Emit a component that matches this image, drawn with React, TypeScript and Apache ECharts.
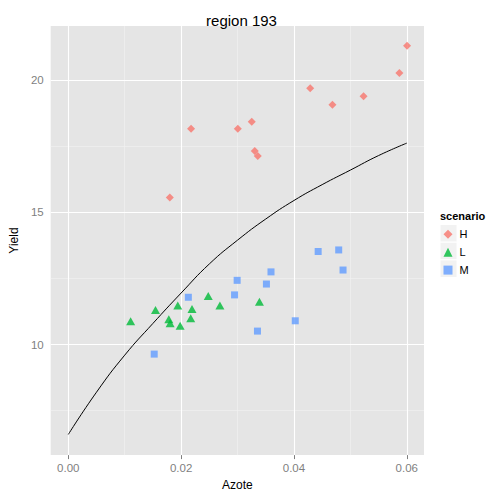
import React, { useEffect, useRef } from 'react';
import * as echarts from 'echarts';

// Scenario H (red diamonds)
const hAzote = [0.0180, 0.02176, 0.03005, 0.03252, 0.03305, 0.03358, 0.04288, 0.04682, 0.05234, 0.05869, 0.06005];
const hYield = [15.56, 18.16, 18.16, 18.43, 17.32, 17.13, 19.70, 19.07, 19.39, 20.27, 21.30];

// Scenario L (green triangles)
const lAzote = [0.01105, 0.01546, 0.01782, 0.01805, 0.01941, 0.01982, 0.02170, 0.02193, 0.02481, 0.02687, 0.03388];
const lYield = [10.88, 11.31, 10.96, 10.81, 11.48, 10.71, 11.00, 11.35, 11.84, 11.48, 11.62];

// Scenario M (blue squares)
const mAzote = [0.01523, 0.02128, 0.02947, 0.02993, 0.03353, 0.03512, 0.03593, 0.04023, 0.04429, 0.04793, 0.04870];
const mYield = [9.64, 11.79, 11.88, 12.43, 10.51, 12.29, 12.75, 10.90, 13.52, 13.58, 12.82];

// Fitted response curve
const curveAzote = [0, 0.005, 0.01, 0.015, 0.02, 0.025, 0.03, 0.035, 0.04, 0.045, 0.05, 0.055, 0.06];
const curveYield = [6.6, 8.2, 9.6, 10.8, 11.95, 13.05, 13.95, 14.75, 15.45, 16.05, 16.6, 17.15, 17.62];

const scenarios = ['H', 'L', 'M'];
const xMajor = [0, 0.02, 0.04, 0.06];
const xMinor = [0.01, 0.03, 0.05];
const yMajor = [10, 15, 20];
const yMinor = [7.5, 12.5, 17.5];

const zip = (a: number[], b: number[]) => a.map((v, i) => [v, b[i]]);

export default function App() {
  const ref = useRef<HTMLDivElement>(null);
  useEffect(() => {
    const chart = echarts.init(ref.current!, null, { renderer: 'svg' });
    const axisText = { color: '#7F7F7F', fontSize: 11.5, fontFamily: 'Liberation Sans, Arial, sans-serif' };
    const minorStyle = { color: '#F2F2F2', width: 0.6, type: 'solid' };
    const majorStyle = { color: '#FFFFFF', width: 1.1, type: 'solid' };
    chart.setOption({
      animation: false,
      backgroundColor: '#FFFFFF',
      textStyle: { fontFamily: 'Liberation Sans, Arial, sans-serif' },
      title: {
        text: 'region 193',
        left: 236.5,
        textAlign: 'center',
        top: 8,
        textStyle: { fontSize: 15, fontWeight: 'normal', color: '#000' },
      },
      grid: {
        left: 49,
        right: 65,
        top: 26,
        bottom: 35,
        show: true,
        backgroundColor: '#E5E5E5',
        borderWidth: 0,
      },
      xAxis: {
        type: 'value',
        min: -0.00312,
        max: 0.06305,
        name: 'Azote',
        nameLocation: 'middle',
        nameGap: 21,
        nameTextStyle: { color: '#000', fontSize: 12 },
        axisLine: { show: false },
        axisTick: { show: true, customValues: xMajor, length: 4, lineStyle: { color: '#7F7F7F' } },
        axisLabel: { customValues: xMajor, margin: 7, ...axisText, formatter: (v: number) => v.toFixed(2) },
        splitLine: { show: false },
      },
      yAxis: {
        type: 'value',
        min: 5.82,
        max: 22.05,
        name: 'Yield',
        nameLocation: 'middle',
        nameGap: 21,
        nameTextStyle: { color: '#000', fontSize: 12 },
        axisLine: { show: false },
        axisTick: { show: true, customValues: yMajor, length: 4, lineStyle: { color: '#7F7F7F' } },
        axisLabel: { customValues: yMajor, margin: 7, ...axisText, formatter: (v: number) => String(v) },
        splitLine: { show: false },
      },
      legend: {
        orient: 'vertical',
        left: 443.5,
        top: 228.8,
        padding: 0,
        itemWidth: 9,
        itemHeight: 9,
        itemGap: 6.9,
        textStyle: { fontSize: 11, color: '#000', lineHeight: 9, padding: [0, 0, 0, 2] },
        data: [
          { name: 'H', icon: 'diamond' },
          { name: 'L', icon: 'triangle' },
          { name: 'M', icon: 'rect' },
        ],
      },
      graphic: [
        {
          type: 'text',
          left: 440,
          top: 210,
          style: { text: 'scenario', fontSize: 11, fontWeight: 'bold', fill: '#000', fontFamily: 'Liberation Sans, Arial, sans-serif' },
        },
        ...[224.5, 242.2, 259.9].map((y) => ({
          type: 'rect',
          shape: { x: 440, y, width: 17, height: 17.7 },
          style: { fill: '#F2F2F2', stroke: '#FFFFFF', lineWidth: 1 },
          z: -1,
        })),
      ],
      series: [
        {
          name: 'grid',
          type: 'line',
          data: [],
          silent: true,
          markLine: {
            z: 1,
            silent: true,
            symbol: ['none', 'none'],
            label: { show: false },
            emphasis: { disabled: true },
            data: [
              ...xMinor.map((v) => ({ xAxis: v, lineStyle: minorStyle })),
              ...yMinor.map((v) => ({ yAxis: v, lineStyle: minorStyle })),
              ...xMajor.map((v) => ({ xAxis: v, lineStyle: majorStyle })),
              ...yMajor.map((v) => ({ yAxis: v, lineStyle: majorStyle })),
            ],
          },
        },
        {
          name: 'fit',
          type: 'line',
          data: zip(curveAzote, curveYield),
          smooth: true,
          showSymbol: false,
          lineStyle: { color: '#000', width: 1 },
          z: 2,
        },
        {
          name: scenarios[0],
          type: 'scatter',
          data: zip(hAzote, hYield),
          symbol: 'diamond',
          symbolSize: 8,
          itemStyle: { color: '#F8766D' },
          z: 3,
        },
        {
          name: scenarios[1],
          type: 'scatter',
          data: zip(lAzote, lYield),
          symbol: 'triangle',
          symbolSize: [9, 8],
          itemStyle: { color: '#00BA38' },
          z: 3,
        },
        {
          name: scenarios[2],
          type: 'scatter',
          data: zip(mAzote, mYield),
          symbol: 'rect',
          symbolSize: 7,
          itemStyle: { color: '#619CFF' },
          z: 3,
        },
      ],
    });
    return () => chart.dispose();
  }, []);
  return (
    <div
      ref={ref}
      style={{ position: 'fixed', left: 0, top: 0, width: 489, height: 496, background: '#fff' }}
    />
  );
}
